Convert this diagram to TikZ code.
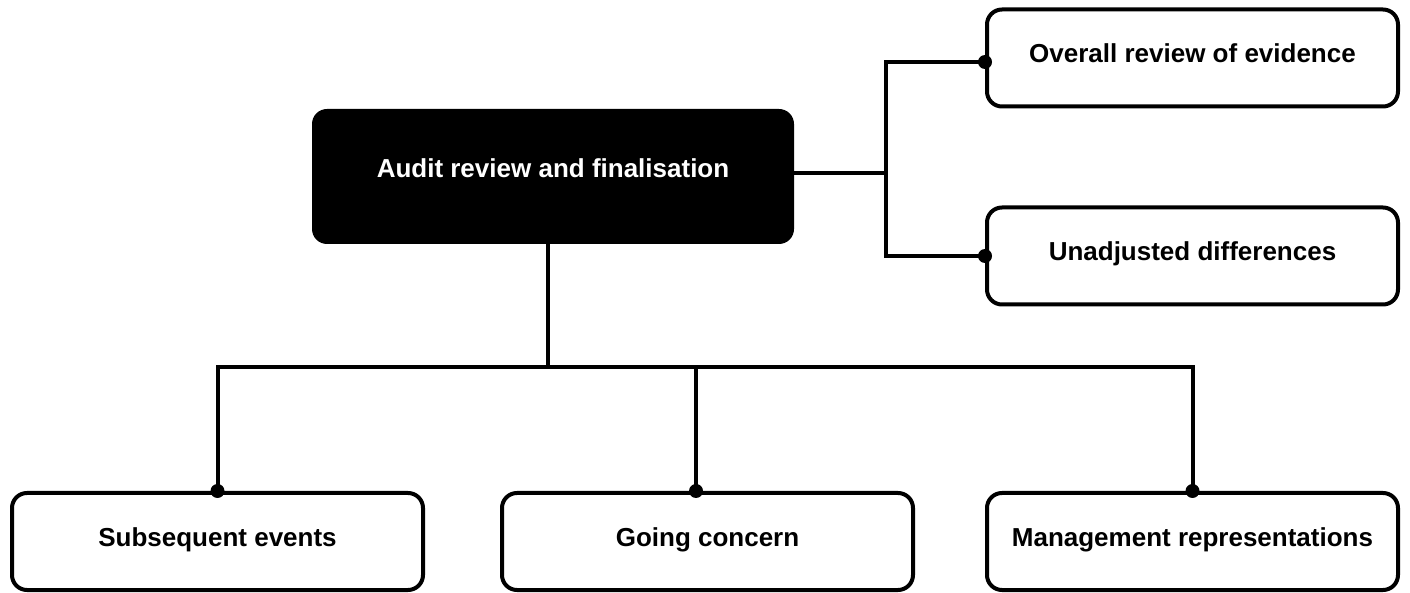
\documentclass[tikz,border=0pt]{standalone}
\usepackage{fontspec}
\setmainfont{Liberation Sans}
\usetikzlibrary{positioning}

\begin{document}
\begin{tikzpicture}%
  [x=0.5pt,y=-0.5pt,
   node distance=37.5pt,
   topic/.style=
    {draw,line width=2pt,rounded corners=7.5pt,minimum height=48.5pt,
     minimum width=205.5pt,align=center,
     font=\bfseries\fontsize{13pt}{15pt}\selectfont,
     text height=9pt,text depth=4.5pt},
   stage/.style=
    {fill=black,text=white,rounded corners=7.5pt,minimum height=67.5pt,
     minimum width=241pt,align=center,
     font=\bfseries\fontsize{13pt}{15pt}\selectfont,
     text height=9pt,text depth=8.2pt},
   link/.style={line width=2pt},
   joint/.style={fill=black}
  ]
  \useasboundingbox (0,0) rectangle (1410,593);
  \node[stage] (audit) at (553,176.5) {Audit review and finalisation};
  \node[topic] (ovr) at (1192.5,58) {Overall review of evidence};
  \node[topic,below=48.5pt of ovr] (unadj) {Unadjusted differences};
  \node[topic] (subs) at (217.5,541.5) {Subsequent events};
  \node[topic,right=of subs] (going) {Going concern};
  \node[topic,right=35pt of going] (mgmt) {Management representations};
  % junctions
  \coordinate (jr) at (886,173);
  \coordinate (am) at ([xshift=-2.5pt]audit.south);
  \coordinate (bus) at (am |- 0,367);
  \coordinate (gn) at ([xshift=-5.75pt]going.north);
  \coordinate (ow) at ([yshift=-2pt]ovr.west);
  \draw[link] (audit.east |- jr) -- (jr);
  \draw[link] (ow) -| (jr) |- (unadj.west);
  \draw[link] (am) -- (bus);
  \draw[link] (subs.north) |- (bus) -| (mgmt.north);
  \draw[link] (gn) -- (gn |- bus);
  \foreach \p in {ow,unadj.west,subs.north,gn,mgmt.north}
    \fill[joint] (\p) circle (3.5pt);
\end{tikzpicture}
\end{document}
